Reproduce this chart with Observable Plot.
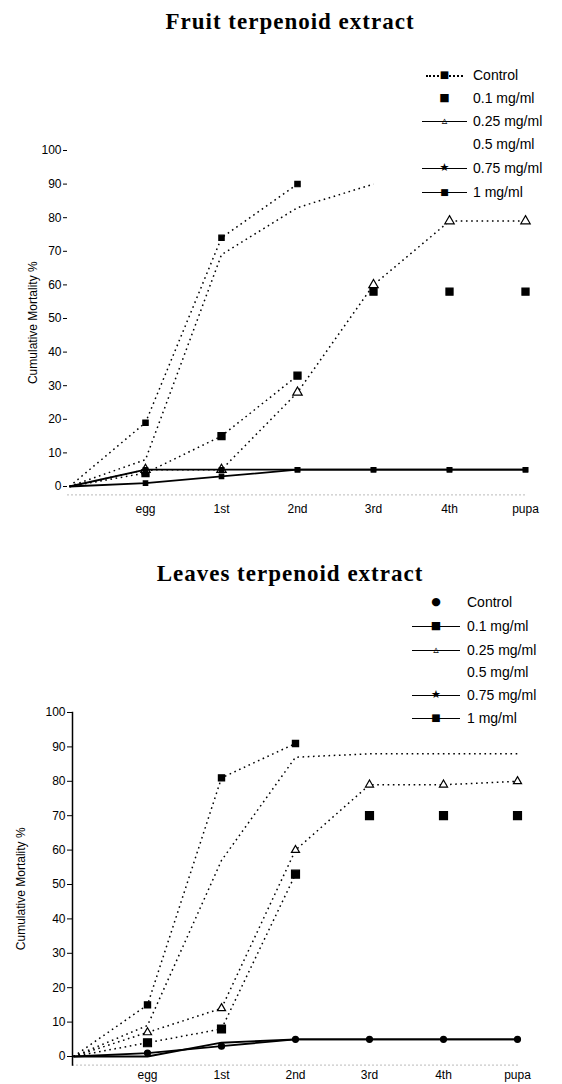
<!DOCTYPE html>
<html><head><meta charset="utf-8">
<script src="https://cdn.jsdelivr.net/npm/d3@7"></script>
<script src="https://cdn.jsdelivr.net/npm/@observablehq/plot@0.6"></script>
<style>
body{margin:0;background:#fff;font-family:"Liberation Sans",Arial,sans-serif;color:#000;}
#page{position:relative;width:562px;height:1084px;overflow:hidden;background:#fff;}
.title{position:absolute;left:0;width:580px;text-align:center;font:bold 23px "Liberation Serif","DejaVu Serif",serif;letter-spacing:1px;line-height:26px;}
.chart{position:absolute;left:0;}
.row{position:absolute;height:20px;white-space:nowrap;font-size:14px;line-height:20px;}
.sw{position:absolute;top:0;height:20px;}
.ln{position:absolute;left:0;right:0;top:10px;height:0;}
.mk{position:absolute;top:0;height:20px;line-height:20px;font-family:"DejaVu Sans",sans-serif;text-align:center;width:14px;margin-left:-7px;}
.tx{position:absolute;top:0;}
</style>
</head><body>
<div id="page"></div>
<script>
// ---------- data ----------
const stages = ["start", "egg", "1st", "2nd", "3rd", "4th", "pupa"];
const stageLabels = ["", "egg", "1st", "2nd", "3rd", "4th", "pupa"];
const seriesNames = ["Control", "0.1 mg/ml", "0.25 mg/ml", "0.5 mg/ml", "0.75 mg/ml", "1 mg/ml"];
const yTicks = [0, 10, 20, 30, 40, 50, 60, 70, 80, 90, 100];

// Fruit terpenoid extract (cumulative mortality %)
const fruitControl = [0, 1, 3, 5, 5, 5, 5];
const fruit01 = [0, 4, 15, 33, 58, 58, 58];
const fruit025 = [0, 5, 5, 28, 60, 79, 79];
const fruit05 = [0, 8, 69, 83, 90, null, null];
const fruit075 = [0, 19, 74, 90, null, null, null];
const fruit1 = [0, 5, 5, 5, 5, 5, 5];

// Leaves terpenoid extract (cumulative mortality %)
const leavesControl = [0, 1, 3, 5, 5, 5, 5];
const leaves01 = [0, 4, 8, 53, 70, 70, 70];
const leaves025 = [0, 7, 14, 60, 79, 79, 80];
const leaves05 = [0, 9, 57, 87, 88, 88, 88];
const leaves075 = [0, 15, 81, 91, null, null, null];
const leaves1 = [0, 0, 4, 5, 5, 5, 5];

// ---------- helpers ----------
const labelOf = new Map(stages.map((s, i) => [s, stageLabels[i]]));
function toRows(arrays) {
  const rows = [];
  arrays.forEach((vals, si) => vals.forEach((v, i) => {
    if (v != null) rows.push({series: seriesNames[si], stage: stages[i], idx: i, value: v});
  }));
  return rows;
}
const DOT = "1.6,3.6";

function makeChart(arrays, styles, opt) {
  const rows = toRows(arrays);
  const marks = [
    Plot.frame({anchor: "bottom", stroke: "#bbb", strokeDasharray: "1,3"}),
    Plot.axisX({tickSize: 0, tickPadding: opt.xPad, label: null, tickFormat: d => labelOf.get(d), fontSize: 12}),
    Plot.axisY({ticks: yTicks, tickSize: opt.tickSize, tickPadding: 2, fontSize: 12,
      label: "Cumulative Mortality %", labelAnchor: "center", labelOffset: opt.labelOffset, labelArrow: "none"})
  ];
  if (opt.leftLine) marks.push(Plot.frame({anchor: "left", stroke: "#000", strokeWidth: 1.5}));
  seriesNames.forEach((name, si) => {
    const st = styles[si];
    const data = rows.filter(r => r.series === name);
    const lineData = data.filter(r => r.idx <= st.lineTo);
    if (st.line) marks.push(Plot.line(lineData, {x: "stage", y: "value", stroke: "#000",
      strokeWidth: st.solid ? 1.8 : 1.5, strokeDasharray: st.solid ? null : DOT, strokeLinecap: "butt"}));
    if (st.symbol) marks.push(Plot.dot(data.filter(r => r.idx > 0), {x: "stage", y: "value", symbol: st.symbol,
      r: st.r, fill: st.fill ? "#000" : "#fff", stroke: "#000", strokeWidth: 1.2}));
  });
  return Plot.plot({
    width: 562, height: opt.height,
    marginLeft: opt.ml, marginRight: opt.mr, marginTop: opt.mt, marginBottom: opt.mb,
    style: {fontFamily: "'Liberation Sans', Arial, sans-serif", fontSize: "12px", background: "#fff", color: "#000"},
    x: {type: "point", domain: stages, padding: 0},
    y: {domain: [-2.5, 100]},
    marks
  });
}

const fruitStyles = [
  {line: true, solid: true, lineTo: 6, symbol: "square", r: 2.5, fill: true},
  {line: true, solid: false, lineTo: 3, symbol: "square", r: 4, fill: true},
  {line: true, solid: false, lineTo: 6, symbol: "triangle", r: 3.5, fill: false},
  {line: true, solid: false, lineTo: 6, symbol: null},
  {line: true, solid: false, lineTo: 6, symbol: "square", r: 3, fill: true},
  {line: true, solid: true, lineTo: 6, symbol: "square", r: 2.5, fill: true}
];
const leavesStyles = [
  {line: true, solid: true, lineTo: 6, symbol: "circle", r: 3, fill: true},
  {line: true, solid: false, lineTo: 3, symbol: "square", r: 4.5, fill: true},
  {line: true, solid: false, lineTo: 6, symbol: "triangle", r: 3, fill: false},
  {line: true, solid: false, lineTo: 6, symbol: null},
  {line: true, solid: false, lineTo: 6, symbol: "square", r: 3.5, fill: true},
  {line: true, solid: true, lineTo: 6, symbol: null}
];

const page = document.getElementById("page");
function addTitle(text, top) {
  const d = document.createElement("div");
  d.className = "title"; d.textContent = text; d.style.top = top + "px";
  page.appendChild(d);
}
function addChart(svg, top) {
  const w = document.createElement("div");
  w.className = "chart"; w.style.top = top + "px";
  w.appendChild(svg); page.appendChild(w);
}
function addLegend(items, ys, x0, sw, gap) {
  seriesNames.forEach((name, i) => {
    const it = items[i];
    const r = document.createElement("div");
    r.className = "row"; r.style.top = (ys[i] - 10) + "px"; r.style.left = x0 + "px";
    r.style.width = (562 - x0) + "px";
    const s = document.createElement("div");
    s.className = "sw"; s.style.left = "0px"; s.style.width = sw + "px";
    if (it.line) {
      const l = document.createElement("div");
      l.className = "ln";
      l.style.borderTop = it.line === "solid" ? "1.6px solid #000" : "2px dotted #000";
      if (it.line === "dotted") { l.style.left = "4px"; l.style.right = "4px"; }
      s.appendChild(l);
    }
    if (it.mark) {
      const m = document.createElement("div");
      m.className = "mk"; m.textContent = it.mark; m.style.left = (sw / 2) + "px";
      m.style.fontSize = (it.size || 11) + "px";
      s.appendChild(m);
    }
    r.appendChild(s);
    const t = document.createElement("div");
    t.className = "tx"; t.style.left = (sw + gap) + "px"; t.textContent = name;
    r.appendChild(t);
    page.appendChild(r);
  });
}

// ---------- Fruit ----------
addTitle("Fruit terpenoid extract", 9);
addChart(makeChart([fruitControl, fruit01, fruit025, fruit05, fruit075, fruit1], fruitStyles,
  {height: 400, ml: 67, mr: 35, mt: 20, mb: 35.6, xPad: 10, tickSize: 4, labelOffset: 39, leftLine: false}), 130);
addLegend([
  {line: "dotted", mark: "■", size: 10},
  {line: null, mark: "■", size: 11},
  {line: "solid", mark: "▵", size: 11},
  {line: null, mark: null},
  {line: "solid", mark: "★", size: 11},
  {line: "solid", mark: "■", size: 9}
], [75, 98, 121, 144, 168, 192], 422, 45, 6);

// ---------- Leaves ----------
addTitle("Leaves terpenoid extract", 561);
addChart(makeChart([leavesControl, leaves01, leaves025, leaves05, leaves075, leaves1], leavesStyles,
  {height: 384, ml: 72, mr: 44, mt: 12, mb: 19.4, xPad: 5, tickSize: 5, labelOffset: 56, leftLine: true}), 700);
addLegend([
  {line: null, mark: "●", size: 11},
  {line: "solid", mark: "■", size: 11},
  {line: "solid", mark: "▵", size: 11},
  {line: null, mark: null},
  {line: "solid", mark: "★", size: 11},
  {line: "solid", mark: "■", size: 10}
], [602, 626, 650, 672, 695, 718], 412, 48, 7);
</script>
</body></html>
